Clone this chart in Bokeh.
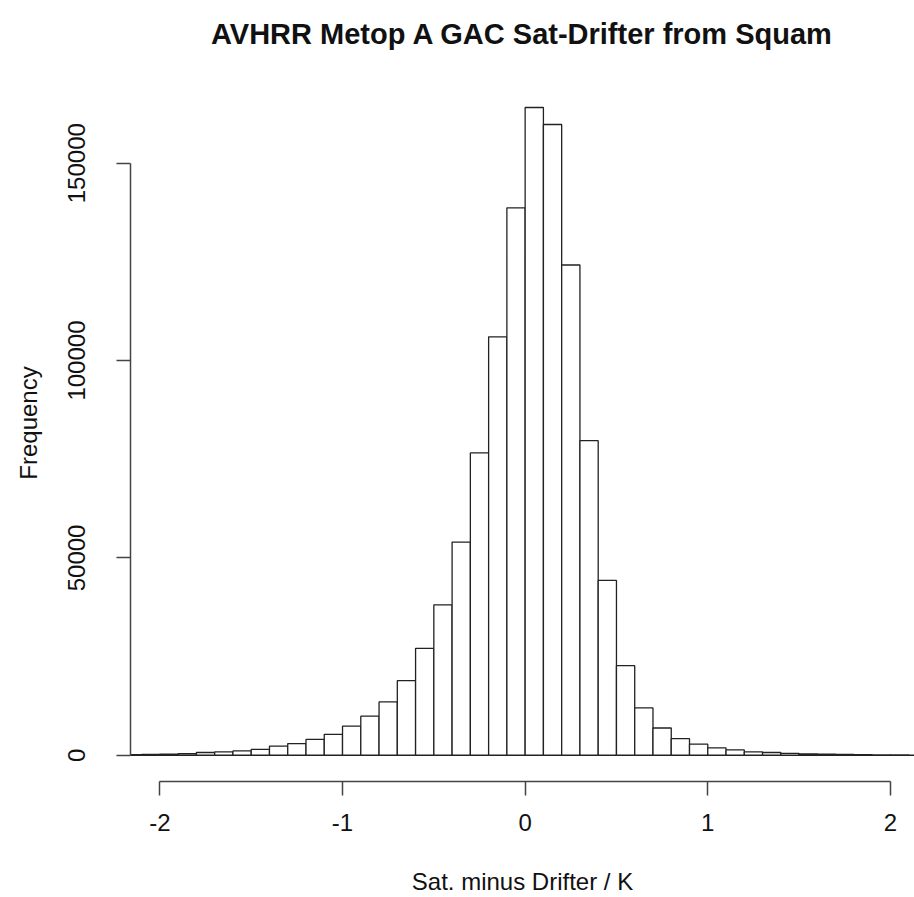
from bokeh.plotting import figure
from bokeh.models import FixedTicker, Range1d, ColumnDataSource
from bokeh.embed import file_html
from bokeh.resources import INLINE

# ---- data ----
bin_left = [-2.2, -2.1, -2.0, -1.9, -1.8, -1.7, -1.6, -1.5, -1.4, -1.3, -1.2,
            -1.1, -1.0, -0.9, -0.8, -0.7, -0.6, -0.5, -0.4, -0.3, -0.2, -0.1,
            0.0, 0.1, 0.2, 0.3, 0.4, 0.5, 0.6, 0.7, 0.8, 0.9, 1.0, 1.1, 1.2,
            1.3, 1.4, 1.5, 1.6, 1.7, 1.8, 1.9, 2.0, 2.1]
counts = [150, 200, 300, 400, 700, 850, 1100, 1500, 2300, 2950, 4000,
          5300, 7400, 9900, 13500, 18900, 27100, 38100, 54000, 76600, 106000, 138700,
          164100, 159800, 124200, 79700, 44300, 22700, 12000, 6900, 4200, 2800, 1850, 1350, 850,
          700, 500, 350, 250, 200, 150, 100, 100, 50]
bin_width = 0.1
x_ticks = [-2, -1, 0, 1, 2]
x_tick_labels = ["-2", "-1", "0", "1", "2"]
y_ticks = [0, 50000, 100000, 150000]
y_tick_labels = ["0", "50000", "100000", "150000"]

title_text = "AVHRR Metop A GAC Sat-Drifter from Squam"
x_label = "Sat. minus Drifter / K"
y_label = "Frequency"

FONT = "Liberation Sans"

src = ColumnDataSource(dict(
    left=bin_left,
    right=[b + bin_width for b in bin_left],
    top=counts,
    bottom=[0] * len(counts),
))

p = figure(width=914, height=897, output_backend="svg", toolbar_location=None,
           x_range=Range1d(-2.161, 2.132), y_range=Range1d(-6650, 175000),
           min_border_left=130, min_border_right=0, min_border_top=64,
           min_border_bottom=115)

p.quad(left="left", right="right", top="top", bottom="bottom", source=src,
       fill_color="white", line_color="#222222", line_width=1.3)

p.outline_line_color = None
p.grid.visible = False
p.background_fill_color = "white"
p.border_fill_color = "white"

# title
p.title.text = title_text
p.title.text_font = FONT
p.title.text_font_size = "29px"
p.title.text_font_style = "bold"
p.title.align = "center"
p.title.text_color = "#111111"
p.title.standoff = 30

# axes
for ax in (p.xaxis[0], p.yaxis[0]):
    ax.axis_line_color = "#444444"
    ax.axis_line_width = 1.5
    ax.major_tick_line_color = "#444444"
    ax.major_tick_line_width = 1.5
    ax.major_tick_out = 14
    ax.major_tick_in = 0
    ax.minor_tick_out = 0
    ax.minor_tick_in = 0
    ax.major_label_text_font = FONT
    ax.major_label_text_font_size = "24px"
    ax.major_label_text_color = "#111111"
    ax.axis_label_text_font = FONT
    ax.axis_label_text_font_size = "24px"
    ax.axis_label_text_font_style = "normal"
    ax.axis_label_text_color = "#111111"

xa = p.xaxis[0]
xa.ticker = FixedTicker(ticks=x_ticks)
xa.major_label_overrides = {t: l for t, l in zip(x_ticks, x_tick_labels)}
xa.bounds = (-2, 2)
xa.axis_label = x_label
xa.major_label_standoff = 18
xa.axis_label_standoff = 34

ya = p.yaxis[0]
ya.ticker = FixedTicker(ticks=y_ticks)
ya.bounds = (0, 150000)
ya.major_label_overrides = {t: l for t, l in zip(y_ticks, y_tick_labels)}
ya.major_label_orientation = "vertical"
ya.axis_label = y_label
ya.major_label_standoff = 31
ya.axis_label_standoff = 24

open("out.html", "w").write(file_html(p, INLINE))
